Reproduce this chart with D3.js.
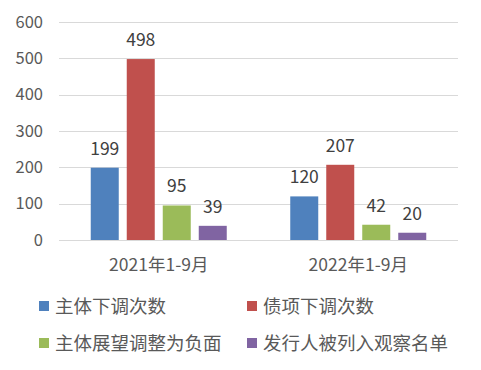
<!DOCTYPE html>
<html>
<head>
<meta charset="utf-8">
<script src="https://cdn.jsdelivr.net/npm/d3@7"></script>
<style>
  body { margin: 0; background: #fff; }
  text { font-family: "Noto Sans CJK SC", "Noto Sans", sans-serif; }
</style>
</head>
<body>
<svg width="481" height="370"></svg>
<script>
// data
const periods = ["2021年1-9月", "2022年1-9月"];
const seriesNames = ["主体下调次数", "债项下调次数", "主体展望调整为负面", "发行人被列入观察名单"];
const values2021 = [199, 498, 95, 39];
const values2022 = [120, 207, 42, 20];
const yTicks = [0, 100, 200, 300, 400, 500, 600];
const colors = ["#4F81BD", "#C0504D", "#9BBB59", "#8064A2"];

const rows = periods.map((p, i) => ({
    period: p,
    vals: (i === 0 ? values2021 : values2022).map((v, j) => ({ name: seriesNames[j], value: v }))
}));

let svg = d3.select("svg");
let plotLeft = 59, plotRight = 458, plotTop = 22, plotBottom = 240;

let x0 = d3.scaleBand()
    .domain(periods)
    .range([plotLeft, plotRight])
    .padding(0);

let inner = (x0.bandwidth() - 136) / 2;
let x1 = d3.scaleBand()
    .domain(seriesNames)
    .range([inner, x0.bandwidth() - inner])
    .paddingInner(8 / 36)
    .paddingOuter(0);

let y = d3.scaleLinear()
    .domain([0, 600])
    .range([plotBottom, plotTop]);

// gridlines
svg.append("g")
    .selectAll("line")
    .data(yTicks)
    .enter().append("line")
    .attr("x1", plotLeft)
    .attr("x2", plotRight)
    .attr("y1", d => Math.round(y(d)) + 0.5)
    .attr("y2", d => Math.round(y(d)) + 0.5)
    .attr("stroke", "#d9d9d9")
    .attr("stroke-width", 1);

// y axis labels
let yAxis = d3.axisLeft(y).tickValues(yTicks).tickSize(0).tickPadding(0);
let ya = svg.append("g")
    .attr("transform", "translate(43,0)")
    .call(yAxis);
ya.select(".domain").remove();
ya.selectAll("text")
    .attr("fill", "#595959")
    .style("font-size", "16.5px");

// x axis labels
let xAxis = d3.axisBottom(x0).tickSize(0).tickPadding(0);
let xa = svg.append("g")
    .attr("transform", "translate(0,265)")
    .call(xAxis);
xa.select(".domain").remove();
xa.selectAll("text")
    .attr("dy", "0.36em")
    .attr("fill", "#595959")
    .style("font-size", "17.5px");

// bars
let groups = svg.selectAll(".grp")
    .data(rows)
    .enter().append("g")
    .attr("class", "grp")
    .attr("transform", d => "translate(" + x0(d.period) + ",0)");

groups.selectAll("rect")
    .data(d => d.vals)
    .enter().append("rect")
    .attr("x", d => x1(d.name))
    .attr("y", d => y(d.value))
    .attr("width", x1.bandwidth())
    .attr("height", d => plotBottom - y(d.value))
    .attr("fill", (d, i) => colors[i]);

groups.selectAll(".lbl")
    .data(d => d.vals)
    .enter().append("text")
    .attr("class", "lbl")
    .attr("x", d => x1(d.name) + x1.bandwidth() / 2)
    .attr("y", d => y(d.value) - 13)
    .attr("text-anchor", "middle")
    .attr("fill", "#404040")
    .style("font-size", "17.5px")
    .text(d => d.value);

// legend
let legend = svg.append("g");
let legItems = legend.selectAll("g")
    .data(seriesNames)
    .enter().append("g")
    .attr("transform", (d, i) => "translate(" + (i % 2 === 0 ? 39 : 247) + "," + (i < 2 ? 306 : 343) + ")");
legItems.append("rect")
    .attr("x", 0)
    .attr("y", -5)
    .attr("width", 10)
    .attr("height", 10)
    .attr("fill", (d, i) => colors[i]);
legItems.append("text")
    .attr("x", 16)
    .attr("y", 0)
    .attr("dy", "0.36em")
    .attr("fill", "#595959")
    .style("font-size", "18.5px")
    .text(d => d);
</script>
</body>
</html>
